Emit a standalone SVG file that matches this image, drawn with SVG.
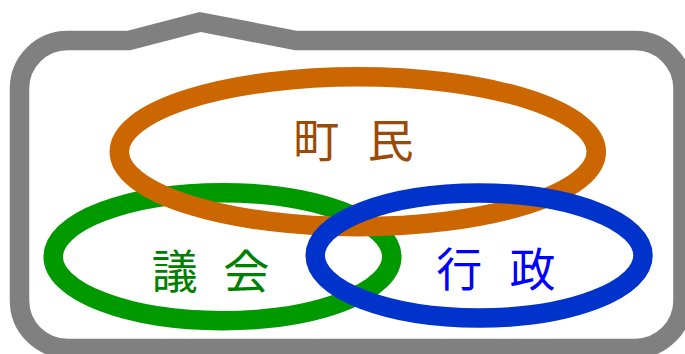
<svg xmlns="http://www.w3.org/2000/svg" width="685" height="354" viewBox="0 0 685 354">
<style>
.ring{fill:none;stroke-width:19.5}
.lbl{font-family:"Noto Sans CJK JP","Noto Sans CJK SC",sans-serif;font-size:46px}
</style>
<rect width="685" height="354" fill="#ffffff"/>
<g id="frame">
<path d="M67.5,40.5 H129 L200,22 L296,40.5 H635 A48,48 0 0 1 683,88.5 V300.5 A48,48 0 0 1 635,348.5 H67.5 A48,48 0 0 1 19.5,300.5 V88.5 A48,48 0 0 1 67.5,40.5 Z" fill="#ffffff" stroke="#808080" stroke-width="19.5" stroke-linejoin="miter"/>
</g>
<g id="gikai">
<ellipse class="ring" cx="222.5" cy="256.7" rx="169.3" ry="64" stroke="#009900"/>
</g>
<g id="chomin">
<ellipse class="ring" cx="357.8" cy="151.7" rx="238.5" ry="75" stroke="#cc6600"/>
</g>
<g id="gyosei">
<ellipse class="ring" cx="479.1" cy="255.5" rx="163.9" ry="62.5" stroke="#0033cc"/>
</g>
<g id="labels">
<text class="lbl" x="293.3" y="157" fill="#9c4a06" letter-spacing="9">町 民</text>
<text class="lbl" x="151.8" y="288" fill="#008000" letter-spacing="7.6">議 会</text>
<text class="lbl" x="436.2" y="286" fill="#0000ff" letter-spacing="8.5">行 政</text>
</g>
<g id="connectors"></g>
</svg>
